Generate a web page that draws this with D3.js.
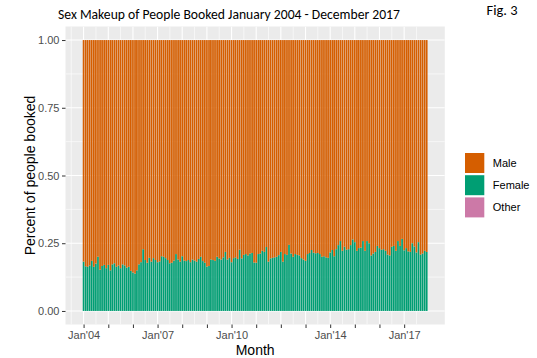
<!DOCTYPE html>
<html>
<head>
<meta charset="utf-8">
<script src="https://cdn.jsdelivr.net/npm/d3@7"></script>
<style>
  body { margin: 0; background: #fff; }
  svg { display: block; }
</style>
</head>
<body>
<svg id="chart" width="537" height="358"></svg>
<script>
// Monthly share of bookings by sex, Jan 2004 - Dec 2017 (one value per month)
const sexes = ["Male", "Female", "Other"];
const sexColors = ["#D55E00", "#009E73", "#CC79A7"];

const femaleShare = [
  // 2004
  0.182, 0.165, 0.163, 0.168, 0.185, 0.163, 0.175, 0.200, 0.152, 0.166, 0.170, 0.158,
  // 2005
  0.170, 0.150, 0.172, 0.176, 0.163, 0.168, 0.158, 0.172, 0.168, 0.160, 0.163, 0.148,
  // 2006
  0.142, 0.138, 0.150, 0.172, 0.180, 0.228, 0.188, 0.178, 0.196, 0.182, 0.195, 0.188,
  // 2007
  0.180, 0.183, 0.202, 0.200, 0.195, 0.188, 0.176, 0.178, 0.186, 0.210, 0.190, 0.182,
  // 2008
  0.202, 0.186, 0.184, 0.188, 0.180, 0.190, 0.186, 0.182, 0.192, 0.200, 0.184, 0.178,
  // 2009
  0.164, 0.166, 0.190, 0.188, 0.185, 0.200, 0.194, 0.190, 0.198, 0.218, 0.190, 0.196,
  // 2010
  0.180, 0.195, 0.198, 0.192, 0.226, 0.194, 0.207, 0.210, 0.205, 0.212, 0.214, 0.179,
  // 2011
  0.178, 0.210, 0.212, 0.222, 0.218, 0.236, 0.182, 0.194, 0.196, 0.198, 0.200, 0.206,
  // 2012
  0.218, 0.182, 0.210, 0.207, 0.244, 0.212, 0.200, 0.210, 0.207, 0.205, 0.195, 0.190,
  // 2013
  0.185, 0.210, 0.214, 0.225, 0.215, 0.213, 0.214, 0.210, 0.200, 0.202, 0.198, 0.196,
  // 2014
  0.216, 0.225, 0.202, 0.228, 0.243, 0.258, 0.222, 0.237, 0.226, 0.228, 0.243, 0.264,
  // 2015
  0.254, 0.222, 0.232, 0.234, 0.258, 0.222, 0.258, 0.250, 0.205, 0.212, 0.218, 0.240,
  // 2016
  0.232, 0.226, 0.228, 0.222, 0.208, 0.205, 0.237, 0.240, 0.222, 0.258, 0.240, 0.266,
  // 2017
  0.224, 0.232, 0.220, 0.218, 0.250, 0.238, 0.216, 0.254, 0.208, 0.212, 0.222, 0.218
];

// "Other" bookings are too rare to register at this scale
const otherShare = [
  0,0,0,0,0,0,0,0,0,0,0,0, 0,0,0,0,0,0,0,0,0,0,0,0, 0,0,0,0,0,0,0,0,0,0,0,0,
  0,0,0,0,0,0,0,0,0,0,0,0, 0,0,0,0,0,0,0,0,0,0,0,0, 0,0,0,0,0,0,0,0,0,0,0,0,
  0,0,0,0,0,0,0,0,0,0,0,0, 0,0,0,0,0,0,0,0,0,0,0,0, 0,0,0,0,0,0,0,0,0,0,0,0,
  0,0,0,0,0,0,0,0,0,0,0,0, 0,0,0,0,0,0,0,0,0,0,0,0, 0,0,0,0,0,0,0,0,0,0,0,0,
  0,0,0,0,0,0,0,0,0,0,0,0, 0,0,0,0,0,0,0,0,0,0,0,0
];

const tickYears = [2004, 2005, 2006, 2007, 2008, 2009, 2010, 2011, 2012, 2013, 2014, 2015, 2016, 2017];
const tickLabels = ["Jan'04", "", "", "Jan'07", "", "", "Jan'10", "", "", "", "Jan'14", "", "", "Jan'17"];
const yTicks = [0, 0.25, 0.5, 0.75, 1];
const yTickLabels = ["0.00", "0.25", "0.50", "0.75", "1.00"];

// ---- layout ----
const panel = { left: 65.5, right: 444.8, top: 26.5, bottom: 324.5 };
const svg = d3.select("#chart");
const DAY = 864e5;

const months = d3.utcMonth.range(new Date(Date.UTC(2004, 0, 1)), new Date(Date.UTC(2018, 0, 1)));
const rows = months.map((m, i) => ({
  month: m,
  Other: otherShare[i],
  Female: femaleShare[i],
  Male: 1 - femaleShare[i] - otherShare[i]
}));

// bars are 90% of the shortest month wide, centred on the first of each month
const barDays = 0.9 * 28;
const lo = +months[0] - barDays / 2 * DAY;
const hi = +months[months.length - 1] + barDays / 2 * DAY;
const pad = (hi - lo) * 0.05;
const x = d3.scaleUtc().domain([new Date(lo - pad), new Date(hi + pad)]).range([panel.left, panel.right]);
const y = d3.scaleLinear().domain([-0.05, 1.05]).range([panel.bottom, panel.top]);

// panel background
svg.append("rect")
  .attr("x", panel.left).attr("y", panel.top)
  .attr("width", panel.right - panel.left).attr("height", panel.bottom - panel.top)
  .attr("fill", "#EBEBEB");

svg.append("clipPath").attr("id", "panel-clip").append("rect")
  .attr("x", panel.left).attr("y", panel.top)
  .attr("width", panel.right - panel.left).attr("height", panel.bottom - panel.top);

const grid = svg.append("g").attr("clip-path", "url(#panel-clip)");

// minor grid: half-way between major breaks
const yMinor = [0.125, 0.375, 0.625, 0.875];
const xMajor = tickYears.map(yr => new Date(Date.UTC(yr, 0, 1)));
const xMinor = d3.range(2003, 2018).map(yr => new Date(Date.UTC(yr, 6, 2)));

grid.selectAll(".ymin").data(yMinor).join("line")
  .attr("x1", panel.left).attr("x2", panel.right)
  .attr("y1", d => y(d)).attr("y2", d => y(d))
  .attr("stroke", "#fff").attr("stroke-width", 0.6);
grid.selectAll(".xmin").data(xMinor).join("line")
  .attr("y1", panel.top).attr("y2", panel.bottom)
  .attr("x1", d => x(d)).attr("x2", d => x(d))
  .attr("stroke", "#fff").attr("stroke-width", 0.6);
grid.selectAll(".ymaj").data(yTicks).join("line")
  .attr("x1", panel.left).attr("x2", panel.right)
  .attr("y1", d => y(d)).attr("y2", d => y(d))
  .attr("stroke", "#fff").attr("stroke-width", 1.1);
grid.selectAll(".xmaj").data(xMajor).join("line")
  .attr("y1", panel.top).attr("y2", panel.bottom)
  .attr("x1", d => x(d)).attr("x2", d => x(d))
  .attr("stroke", "#fff").attr("stroke-width", 1.1);

// stacked bars (Other at the bottom, then Female, Male on top)
const stack = d3.stack().keys(["Other", "Female", "Male"]);
const series = stack(rows);
const colorOf = d3.scaleOrdinal().domain(sexes).range(sexColors);
const barW = x(new Date(+months[0] + barDays * DAY)) - x(months[0]);

svg.append("g").selectAll("g").data(series).join("g")
  .attr("fill", s => colorOf(s.key))
  .selectAll("rect").data(s => s).join("rect")
  .attr("x", d => x(d.data.month) - barW / 2)
  .attr("width", barW)
  .attr("y", d => y(d[1]))
  .attr("height", d => Math.max(0, y(d[0]) - y(d[1])));

// axes
const xAxis = d3.axisBottom(x)
  .tickValues(xMajor)
  .tickFormat((d, i) => tickLabels[i])
  .tickSize(3.5).tickPadding(3);
const gx = svg.append("g").attr("transform", `translate(0,${panel.bottom})`).call(xAxis);

const yAxis = d3.axisLeft(y)
  .tickValues(yTicks)
  .tickFormat((d, i) => yTickLabels[i])
  .tickSize(3.5).tickPadding(2.5);
const gy = svg.append("g").attr("transform", `translate(${panel.left},0)`).call(yAxis);

[gx, gy].forEach(g => {
  g.select(".domain").remove();
  g.selectAll(".tick line").attr("stroke", "#333333").attr("stroke-width", 1);
  g.selectAll(".tick text")
    .attr("fill", "#4D4D4D")
    .style("font-family", "Arial, 'Liberation Sans', sans-serif")
    .style("font-size", "11px");
});

// axis titles
svg.append("text")
  .attr("x", (panel.left + panel.right) / 2).attr("y", 355)
  .attr("text-anchor", "middle")
  .style("font-family", "Arial, 'Liberation Sans', sans-serif")
  .style("font-size", "14px").attr("fill", "#000")
  .text("Month");

svg.append("text")
  .attr("transform", `translate(35,${(panel.top + panel.bottom) / 2}) rotate(-90)`)
  .attr("text-anchor", "middle")
  .style("font-family", "Arial, 'Liberation Sans', sans-serif")
  .style("font-size", "14px").attr("fill", "#000")
  .text("Percent of people booked");

// legend
const legend = svg.append("g").attr("transform", "translate(465,153)");
const keyH = 20, keyW = 19.3, keyGap = 2.2;
sexes.forEach((s, i) => {
  const gy0 = i * (keyH + keyGap);
  legend.append("rect")
    .attr("x", 0).attr("y", gy0).attr("width", keyW).attr("height", keyH)
    .attr("fill", colorOf(s));
  legend.append("text")
    .attr("x", keyW + 8.5).attr("y", gy0 + keyH / 2)
    .attr("dy", "0.35em")
    .style("font-family", "Arial, 'Liberation Sans', sans-serif")
    .style("font-size", "11px").attr("fill", "#000")
    .text(s);
});

// heading and figure number
const headFont = "Carlito, Lato, 'Open Sans', sans-serif";
const title = svg.append("text")
  .attr("x", 229).attr("y", 18.5)
  .attr("text-anchor", "middle")
  .style("font-family", headFont)
  .style("font-size", "15px").attr("fill", "#000")
  .text("Sex Makeup of People Booked January 2004 - December 2017");
const tw = title.node().getComputedTextLength();
title.style("font-size", (15 * 342 / tw).toFixed(2) + "px");

const fig = svg.append("text")
  .attr("x", 502).attr("y", 15)
  .attr("text-anchor", "middle")
  .style("font-family", headFont)
  .style("font-size", "15px").attr("fill", "#000")
  .text("Fig. 3");
const fw = fig.node().getComputedTextLength();
fig.style("font-size", (15 * 31 / fw).toFixed(2) + "px");
</script>
</body>
</html>
